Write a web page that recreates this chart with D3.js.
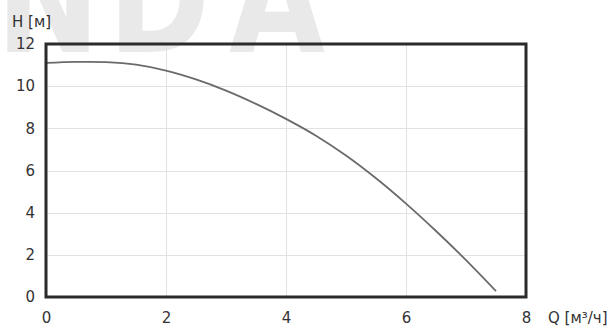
<!DOCTYPE html>
<html>
<head>
<meta charset="utf-8">
<script src="https://cdn.jsdelivr.net/npm/d3@7"></script>
<style>
  html, body { margin: 0; padding: 0; background: #fff; }
  svg { display: block; }
</style>
</head>
<body>
<svg id="chart" width="616" height="326"></svg>
<script>
// Data: pump curve H(Q)
const flowQ = [0, 0.5, 1.0, 1.5, 2.0, 2.5, 3.0, 3.5, 4.0, 4.5, 5.0, 5.5, 6.0, 6.5, 7.0, 7.5];
const headH = [11.10, 11.15, 11.14, 11.02, 10.74, 10.32, 9.79, 9.16, 8.45, 7.65, 6.71, 5.63, 4.43, 3.13, 1.75, 0.28];
const xTicks = [0, 2, 4, 6, 8];
const yTicks = [0, 2, 4, 6, 8, 10, 12];
const xTitle = "Q [м³/ч]";
const yTitle = "H [м]";
const watermark = ["N", "D", "A"];

const svg = d3.select("#chart");
const margin = { left: 46, right: 90, top: 44, bottom: 29 };
const W = 616, H = 326;
const x = d3.scaleLinear().domain([0, 8]).range([margin.left, W - margin.right]);
const y = d3.scaleLinear().domain([0, 12]).range([H - margin.bottom, margin.top]);

// watermark
const wm = svg.append("g").attr("fill", "#e9e9e9")
  .attr("font-family", "DejaVu Sans, sans-serif")
  .attr("font-weight", "bold").attr("font-size", 150);
const wmPos = [[-4, 104], [108, 102], [229, 96]];
watermark.forEach((ch, i) => {
  wm.append("text").attr("x", wmPos[i][0]).attr("y", 52)
    .attr("textLength", wmPos[i][1]).attr("lengthAdjust", "spacingAndGlyphs")
    .text(ch);
});

// grid
const grid = svg.append("g").attr("stroke", "#e2e2e2").attr("stroke-width", 1);
grid.selectAll("line.v").data(xTicks.slice(1, -1)).join("line")
  .attr("x1", d => Math.round(x(d)) + 0.5).attr("x2", d => Math.round(x(d)) + 0.5)
  .attr("y1", y(12)).attr("y2", y(0));
grid.selectAll("line.h").data(yTicks.slice(1, -1)).join("line")
  .attr("x1", x(0)).attr("x2", x(8))
  .attr("y1", d => Math.round(y(d)) + 0.5).attr("y2", d => Math.round(y(d)) + 0.5);

// curve
const pts = flowQ.map((q, i) => [q, headH[i]]);
svg.append("path").datum(pts)
  .attr("fill", "none").attr("stroke", "#6b6b6b").attr("stroke-width", 1.8)
  .attr("d", d3.line().x(d => x(d[0])).y(d => y(d[1])).curve(d3.curveCatmullRom.alpha(0.5)));

// frame
svg.append("rect")
  .attr("x", x(0)).attr("y", y(12))
  .attr("width", x(8) - x(0)).attr("height", y(0) - y(12))
  .attr("fill", "none").attr("stroke", "#2b2b2b").attr("stroke-width", 3);

// axes
const font = "DejaVu Sans, Verdana, sans-serif";
const xAxis = d3.axisBottom(x).tickValues(xTicks).tickSize(0).tickPadding(0);
const gx = svg.append("g").attr("transform", `translate(0, ${y(0)})`).call(xAxis);
gx.select(".domain").remove();
gx.selectAll("text").attr("font-family", font).attr("font-size", 15).attr("fill", "#333")
  .attr("dy", null).attr("y", 26);

const yAxis = d3.axisLeft(y).tickValues(yTicks).tickSize(0).tickPadding(0);
const gy = svg.append("g").attr("transform", `translate(${x(0) - 11}, 0)`).call(yAxis);
gy.select(".domain").remove();
gy.selectAll("text").attr("font-family", font).attr("font-size", 15).attr("fill", "#333");

svg.append("text").attr("x", 12).attr("y", 27)
  .attr("font-family", font).attr("font-size", 15).attr("fill", "#333").text(yTitle);
svg.append("text").attr("x", 548).attr("y", 323)
  .attr("font-family", font).attr("font-size", 15).attr("fill", "#333").text(xTitle);
</script>
</body>
</html>
